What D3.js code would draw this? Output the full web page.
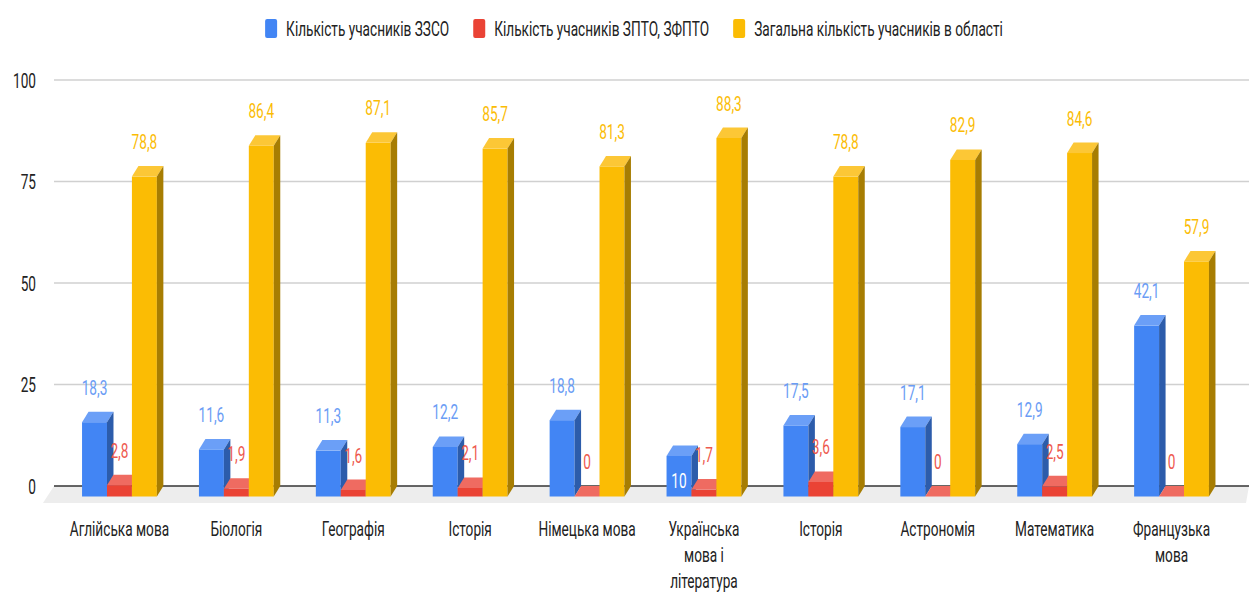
<!DOCTYPE html>
<html>
<head>
<meta charset="utf-8">
<script src="https://cdn.jsdelivr.net/npm/d3@7"></script>
<style>
  body { margin: 0; background: #fff; }
  text { font-family: Roboto, "Noto Sans", sans-serif; }
</style>
</head>
<body>
<svg id="chart" width="1249" height="594"></svg>
<script>
// Дані з діаграми
const categories = ["Аглійська мова", "Біологія", "Географія", "Історія", "Німецька мова",
  "Українська\nмова і\nлітература", "Історія ", "Астрономія", "Математика", "Французька\nмова"];
const seriesNames = ["Кількість учасників ЗЗСО", "Кількість учасників ЗПТО, ЗФПТО", "Загальна кількість учасників в області"];
const zzso = [18.3, 11.6, 11.3, 12.2, 18.8, 10, 17.5, 17.1, 12.9, 42.1];
const zpto = [2.8, 1.9, 1.6, 2.1, 0, 1.7, 3.6, 0, 2.5, 0];
const total = [78.8, 86.4, 87.1, 85.7, 81.3, 88.3, 78.8, 82.9, 84.6, 57.9];
const yTicks = [0, 25, 50, 75, 100];

const colors = [
  { front: "#4285F4", top: "#6b9ff7", side: "#2c5cab", label: "#6a9cf5" },
  { front: "#EA4335", top: "#ef6b61", side: "#a32e25", label: "#ee5a4f" },
  { front: "#FBBC04", top: "#fcc736", side: "#a77d02", label: "#fbbc04" }
];

const W = 1249, H = 594;
const squeeze = 0.65;   // текст у оригіналі стиснутий по горизонталі
const dx = 6.5, dy = 10.5; // глибина 3D

const svg = d3.select("#chart");
const fmt = v => String(v).replace(".", ",");

const y = d3.scaleLinear().domain([0, 100]).range([486, 80]);
const x0 = d3.scaleBand().domain(d3.range(categories.length)).range([61, 1230])
  .paddingInner(0.36).paddingOuter(0.18);
const x1 = d3.scaleBand().domain([0, 1, 2]).range([0, x0.bandwidth()]).padding(0);

function sText(g, tx, ty, str, anchor) {
  return g.append("text")
    .attr("transform", `translate(${tx},${ty}) scale(${squeeze},1)`)
    .attr("text-anchor", anchor || "middle")
    .attr("font-size", "21px")
    .text(str);
}

// підлога
const baseY = y(0);
svg.append("polygon")
  .attr("points", [[54, baseY], [W, baseY], [W - 3, baseY + 17], [43, baseY + 17]].join(" "))
  .attr("fill", "#ededed");

// сітка
const grid = svg.append("g");
yTicks.forEach(t => {
  grid.append("line")
    .attr("x1", 54).attr("x2", W)
    .attr("y1", y(t)).attr("y2", y(t))
    .attr("stroke", t === 0 ? "#333" : "#d0d0d0")
    .attr("stroke-width", t === 0 ? 1.3 : 1.6);
  sText(grid, 36, y(t) + 7.5, t, "end").attr("fill", "#222");
});

// стовпці
const series = [zzso, zpto, total];
const bars = svg.append("g");
categories.forEach((c, i) => {
  series.forEach((vals, s) => {
    const v = vals[i];
    const col = colors[s];
    const bx = x0(i) + x1(s), bw = x1.bandwidth();
    const yb = y(v), yf = yb + dy, bottom = baseY + dy;
    const g = bars.append("g");
    g.append("rect").attr("x", bx).attr("y", yf).attr("width", bw).attr("height", bottom - yf)
      .attr("fill", col.front);
    g.append("polygon")
      .attr("points", [[bx, yf], [bx + dx, yb], [bx + bw + dx, yb], [bx + bw, yf]].join(" "))
      .attr("fill", col.top);
    g.append("polygon")
      .attr("points", [[bx + bw, yf], [bx + bw + dx, yb], [bx + bw + dx, baseY], [bx + bw, bottom]].join(" "))
      .attr("fill", col.side);
  });
});

// підписи значень
const labels = svg.append("g");
categories.forEach((c, i) => {
  series.forEach((vals, s) => {
    const v = vals[i];
    const cx = x0(i) + x1(s) + x1.bandwidth() / 2;
    if (s === 0 && v <= 10) {
      sText(labels, cx, baseY + dy - 9, fmt(v)).attr("fill", "#fff");
    } else {
      sText(labels, cx, y(v) - 17, fmt(v)).attr("fill", colors[s].label);
    }
  });
});

// підписи категорій
const xAxis = svg.append("g");
categories.forEach((c, i) => {
  const cx = x0(i) + x0.bandwidth() / 2;
  c.trim().split("\n").forEach((line, k) => {
    sText(xAxis, cx, 536 + k * 26, line).attr("fill", "#222");
  });
});

// легенда
const legend = svg.append("g");
const items = seriesNames.map((name, s) => {
  const g = legend.append("g");
  g.append("rect").attr("x", 0).attr("y", 19).attr("width", 12).attr("height", 19)
    .attr("rx", 2).attr("fill", colors[s].front);
  const t = sText(g, 21, 35.5, name, "start").attr("fill", "#222");
  const w = 21 + t.node().getComputedTextLength() * squeeze;
  return { g, w };
});
const gap = 24;
const totalW = d3.sum(items, d => d.w) + gap * (items.length - 1);
let lx = 634 - totalW / 2;
items.forEach(it => {
  it.g.attr("transform", `translate(${lx},0)`);
  lx += it.w + gap;
});
</script>
</body>
</html>
